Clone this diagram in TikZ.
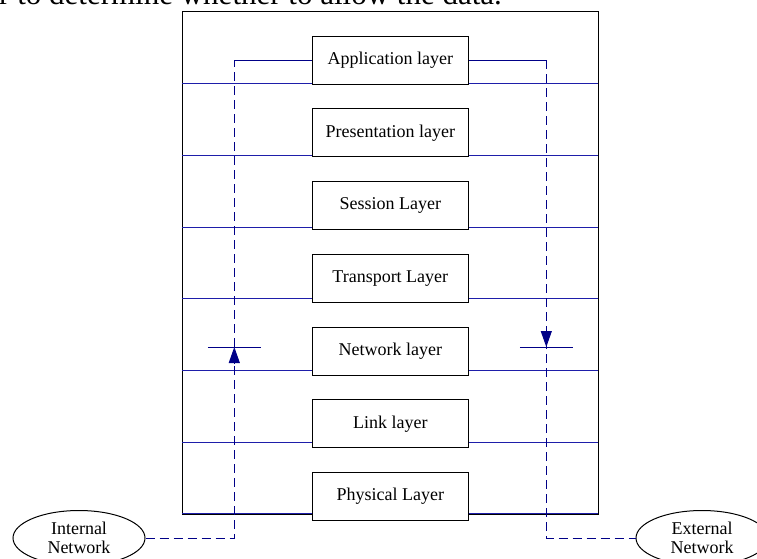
\documentclass[tikz,border=0pt]{standalone}
\usepackage{fontspec}
\setmainfont{Liberation Serif}
\usetikzlibrary{arrows.meta,positioning,shapes.geometric}
\definecolor{azullinea}{RGB}{30,30,170}
\definecolor{azulmarino}{RGB}{0,0,135}

\begin{document}
\begin{tikzpicture}[x=1pt,y=-1pt,
         tipocapa/.style={rectangle,draw,fill=white,line width=1pt,minimum height=48pt,minimum width=156pt,
                          inner sep=0pt,font=\fontsize{18}{19}\selectfont},
         tipored/.style={ellipse,draw,line width=1pt,minimum height=55pt,minimum width=132pt,
                         inner sep=0pt,align=center,font=\fontsize{18}{19}\selectfont},
         tipolinea/.style={azullinea,line width=1.1pt},
         tipoflujo/.style={azulmarino,line width=1pt},
         tipoguion/.style={tipoflujo,dash pattern=on 9pt off 5pt},
         tiposeta/.style={-{Triangle[length=16pt,width=11pt]},azulmarino,line width=1pt}]
        \useasboundingbox (0,0) rectangle (757,559);
        \clip (0,0) rectangle (757,559);
        \node [anchor=base west,inner sep=0pt,font=\fontsize{31}{31}\selectfont] (texto) at (-1,5) {r to determine whether to allow the data.};
        % pila de capas
        \node [draw,line width=1pt,minimum width=416pt,minimum height=502pt,inner sep=0pt] (pila) at (390,263) {};
        \foreach \k in {1,...,7}
          \draw [tipolinea] (182,12+71.7*\k) -- (598,12+71.7*\k);
        \node [tipored] (interna) at (79,538) {Internal\\Network};
        \node [tipored] (externa) at (702,538) {External\\Network};
        \coordinate (izqarriba) at (234.3,60.2);
        \coordinate (derarriba) at (546.3,60.2);
        \coordinate (puntaizq) at (234.3,347);
        \coordinate (puntader) at (546.3,347);
        \draw [tipoguion] (interna.east) -- (interna.east -| izqarriba) -- (izqarriba);
        \draw [tipoguion] (derarriba) -- (derarriba |- externa.west) -- (externa.west);
        \node [tipocapa] (aplicacion) at (390.3,60.2) {Application layer};
        \node [tipocapa] (presentacion) [below=23.7pt of aplicacion] {Presentation layer};
        \node [tipocapa] (sesion) [below=23.7pt of presentacion] {Session Layer};
        \node [tipocapa] (transporte) [below=23.7pt of sesion] {Transport Layer};
        \node [tipocapa] (red) [below=23.7pt of transporte] {Network layer};
        \node [tipocapa] (enlace) [below=23.7pt of red] {Link layer};
        \node [tipocapa] (fisica) [below=23.7pt of enlace] {Physical Layer};
        \draw [tipoflujo] (aplicacion.west) -- (izqarriba);
        \draw [tipoflujo] (aplicacion.east) -- (derarriba);
        \draw [tipoflujo] ([xshift=-26.5pt]puntaizq) -- ([xshift=26.5pt]puntaizq);
        \draw [tipoflujo] ([xshift=-26.5pt]puntader) -- ([xshift=26.5pt]puntader);
        \draw [tiposeta] ([yshift=-17pt]puntaizq) -- (puntaizq);
        \draw [tiposeta] ([yshift=17pt]puntader) -- (puntader);
      \end{tikzpicture}
\end{document}
